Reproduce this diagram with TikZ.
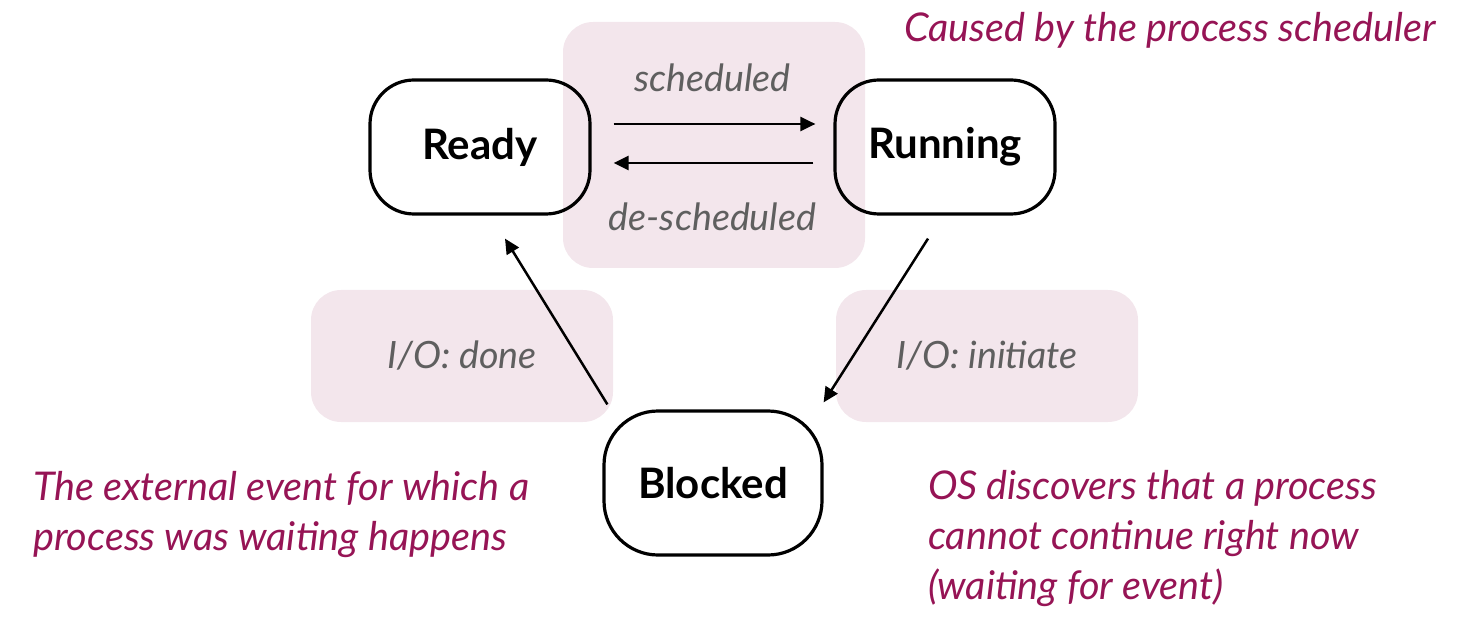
\documentclass[tikz,border=0pt]{standalone}
\usepackage{fontspec}
\setmainfont{Lato}
\usetikzlibrary{arrows.meta,positioning}
\definecolor{notepink}{RGB}{243,230,236}
\definecolor{labelgrey}{RGB}{95,95,95}
\definecolor{notered}{RGB}{150,20,85}

\begin{document}
\begin{tikzpicture}[
  x=0.5pt,y=-0.5pt,
  state/.style={draw,line width=1.6pt,rounded corners=22pt,minimum width=110pt,
                minimum height=67pt,font=\bfseries\fontsize{21}{25}\selectfont},
  bg/.style={fill=notepink,rounded corners=15pt,minimum width=151pt,minimum height=66pt},
  lbl/.style={text=labelgrey,font=\itshape\fontsize{18.8}{22}\selectfont},
  note/.style={text=notered,align=left,font=\itshape\fontsize{19.8}{25}\selectfont},
  flow/.style={-{Triangle[length=7.5pt,width=7pt]},line width=1.25pt}
]
\useasboundingbox (0,0) rectangle (1470,625);
% shaded note areas
\node[bg,minimum height=123pt] (schedbg) at (714,145) {};
\node[bg,lbl] (donebg) at (462,356) {I/O: done};
\node[bg,lbl] (initbg) at (987,356) {I/O: initiate};
% states
\node[state] (ready) at (480,147) {Ready};
\node[state] (running) at (945,147) {Running};
\node[state,minimum width=109pt,minimum height=72pt,rounded corners=27pt] (blocked) at (713,483) {Blocked};
% transitions
\draw[flow] ([yshift=11.5pt]ready.east) -- ([yshift=11.5pt]running.west)
  [shorten <=11pt,shorten >=9pt]
  node[midway,above=12pt,lbl] {scheduled};
\draw[flow,shorten <=10pt,shorten >=11pt] ([yshift=-8pt]running.west) -- ([yshift=-8pt]ready.east)
  node[midway,below=16pt,lbl] {de-scheduled};
\draw[flow] ([shift={(2.5pt,2.5pt)}]blocked.north west) -- ([shift={(12.5pt,-11.5pt)}]ready.south);
\draw[flow] ([shift={(-8.5pt,-11.5pt)}]running.south) -- ([yshift=3.5pt]blocked.north east);
% annotations
\node[note,anchor=west] (schednote) at (897,30) {Caused by the process scheduler};
\node[note,anchor=west] (donenote) at (26,515) {The external event for which a\\process was waiting happens};
\node[note,anchor=west] (initnote) at (921,539) {OS discovers that a process\\cannot continue right now\\(waiting for event)};
\end{tikzpicture}
\end{document}
